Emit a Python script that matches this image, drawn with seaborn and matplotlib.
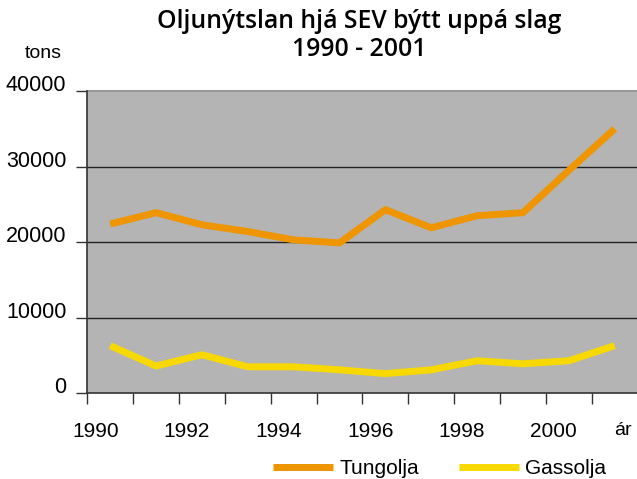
import pandas as pd
import seaborn as sns
import matplotlib.pyplot as plt
import matplotlib.transforms as mtransforms
from matplotlib.lines import Line2D

### data
years = list(range(1990, 2002))
tungolja = [22400, 23900, 22300, 21400, 20300, 19900, 24300, 21900, 23500, 23900, 29500, 35000]
gassolja = [6300, 3600, 5100, 3500, 3500, 3100, 2600, 3100, 4300, 3900, 4300, 6300]
year_labels = ["1990", "1992", "1994", "1996", "1998", "2000"]
y_ticks = [0, 10000, 20000, 30000, 40000]

# long form table for seaborn
df = pd.DataFrame({
    "pos": list(range(len(years))) * 2,
    "value": tungolja + gassolja,
    "slag": ["Tungolja"] * len(years) + ["Gassolja"] * len(years),
})

colours = {"Tungolja": "#EE9500", "Gassolja": "#F7D900"}

sns.set_style("white")
plt.rcParams['font.family'] = ['Liberation Sans', 'DejaVu Sans']
plt.rcParams['text.color'] = 'black'
plt.rcParams['xtick.color'] = 'black'
plt.rcParams['ytick.color'] = 'black'

fig = plt.figure(figsize=(6.37, 4.79), dpi=100)
ax = fig.add_axes([0.137, 0.179, 0.864, 0.631])
ax.set_facecolor("#B4B4B4")

sns.lineplot(data=df, x="pos", y="value", hue="slag", palette=colours,
             linewidth=5, legend=False, ax=ax, solid_capstyle="butt")

ax.set_xlim(-0.5, 11.5)
ax.set_ylim(0, 40000)

# gridlines
for v in y_ticks[1:-1]:
    ax.axhline(v, color="#222222", linewidth=1, zorder=1)

# spines
for side in ["top", "right"]:
    ax.spines[side].set_visible(False)
ax.spines["left"].set_color("#333333")
ax.spines["bottom"].set_color("#333333")
ax.spines["left"].set_linewidth(1.2)
ax.spines["bottom"].set_linewidth(1.2)
ax.plot([0, 1], [1, 1], transform=ax.transAxes, color="#999999", linewidth=1.5, clip_on=False)

# y ticks
ax.set_yticks(y_ticks)
ax.set_yticklabels([str(v) for v in y_ticks], fontsize=15.5)
ax.tick_params(axis="y", direction="out", length=8, width=1, color="#333333", pad=7, left=True)
for lab in ax.get_yticklabels():
    lab.set_verticalalignment("baseline")

# x ticks at category boundaries, labels on every second year
ax.set_xticks([i - 0.5 for i in range(13)])
ax.set_xticklabels([])
ax.tick_params(axis="x", which="major", direction="out", length=8, width=1, color="#333333", bottom=True)
ax.set_xticks(list(range(0, 12, 2)), minor=True)
ax.set_xticklabels(year_labels, minor=True, fontsize=15)
ax.tick_params(axis="x", which="minor", length=0, pad=21)
shift = mtransforms.ScaledTranslation(-15 / 100, 0, fig.dpi_scale_trans)
for lab in ax.get_xticklabels(minor=True):
    lab.set_transform(lab.get_transform() + shift)

ax.set_xlabel("")
ax.set_ylabel("")

# texts
fig.text(0.564, 0.956, "Oljunýtslan hjá SEV býtt uppá slag", ha="center", va="center",
         fontsize=17.8, fontweight="semibold", family=["Open Sans", "DejaVu Sans"])
fig.text(0.564, 0.897, "1990 - 2001", ha="center", va="center",
         fontsize=17.8, fontweight="semibold", family=["Open Sans", "DejaVu Sans"])
fig.text(0.068, 0.889, "tons", ha="center", va="center", fontsize=14)
fig.text(0.978, 0.102, "ár", ha="center", va="center", fontsize=14)

# legend
handles = [Line2D([], [], color=colours[k], linewidth=5, solid_capstyle="butt") for k in ["Tungolja", "Gassolja"]]
fig.legend(handles, ["Tungolja", "Gassolja"], loc="center", bbox_to_anchor=(0.69, 0.022),
           ncol=2, frameon=False, fontsize=15, handlelength=2.9, handletextpad=0.3,
           columnspacing=1.9)

fig.savefig("out.png", dpi=100)
